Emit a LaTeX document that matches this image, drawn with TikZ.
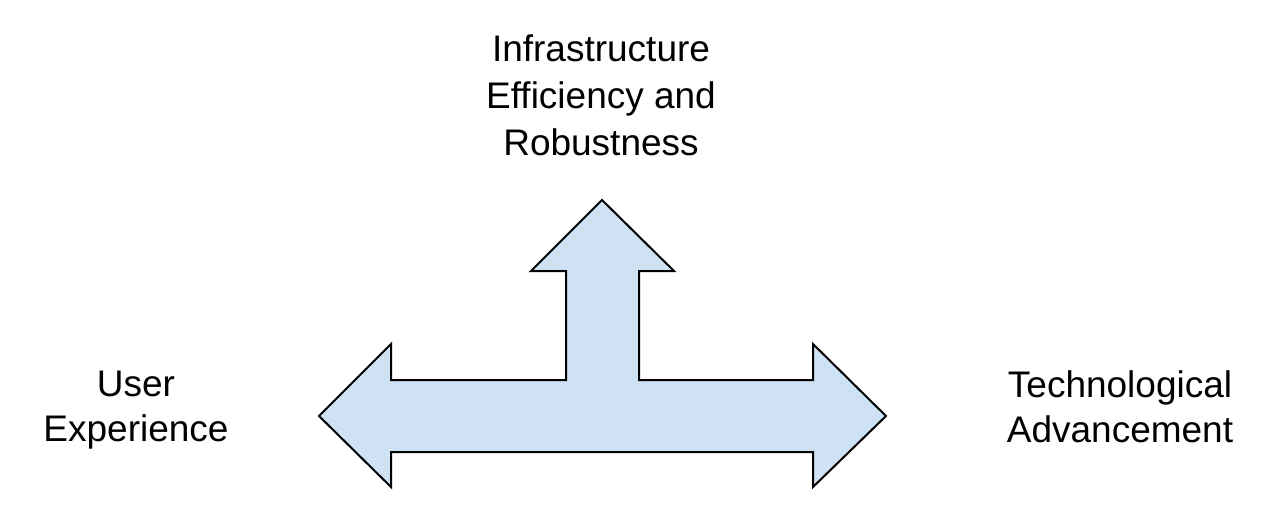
\documentclass[tikz,border=0pt]{standalone}
\usepackage{fontspec}
\setmainfont{Liberation Sans}
\usepackage{tikz}
\definecolor{arrowblue}{HTML}{CFE2F3}
\tikzset{label text/.style={align=center, font=\fontsize{37}{45}\selectfont}}
\begin{document}
\begin{tikzpicture}[x=1pt, y=-1pt]
\useasboundingbox (0,0) rectangle (1264,514);
\draw[line width=2pt, fill=arrowblue, line join=miter]
  (319,416) -- (391,344) -- (391,380) -- (566,380) -- (566,271) -- (531,271)
  -- (602,200) -- (674,271) -- (639,271) -- (639,380) -- (813,380) -- (813,344)
  -- (886,416) -- (813,487) -- (813,452) -- (391,452) -- (391,487) -- cycle;
\node[label text, font=\fontsize{37}{47}\selectfont, anchor=base] (infra) at (601,155) {Infrastructure\\Efficiency and\\Robustness};
\node[label text, anchor=base] (user) at (136,441) {User\\Experience};
\node[label text, anchor=base] (tech) at (1120,442) {Technological\\Advancement};
\end{tikzpicture}
\end{document}
